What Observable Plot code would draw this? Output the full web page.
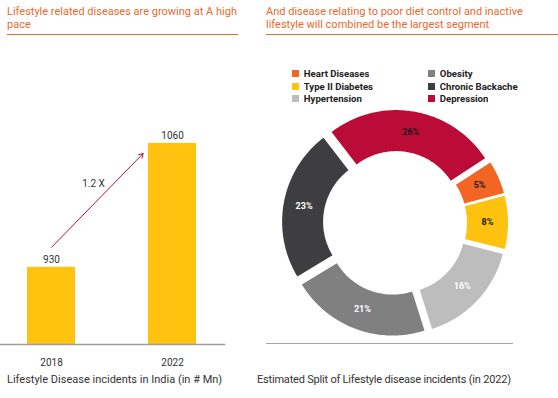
<!DOCTYPE html>
<html>
<head>
<meta charset="utf-8">
<script src="https://cdn.jsdelivr.net/npm/d3@7"></script>
<script src="https://cdn.jsdelivr.net/npm/@observablehq/plot@0.6"></script>
<style>
  html, body { margin: 0; padding: 0; background: #fff; }
  #page { position: relative; width: 558px; height: 398px; overflow: hidden; font-family: Roboto, "Open Sans", sans-serif; }
  .title { position: absolute; top: 5px; font-size: 11px; line-height: 13px; color: #EA6A2C; }
  .rule { position: absolute; height: 0; }
  .caption { position: absolute; top: 373px; font-size: 11px; line-height: 13px; color: #333; white-space: nowrap; }
  .abs { position: absolute; }
  #legend span { letter-spacing: -0.3px; }
</style>
</head>
<body>
<div id="page">
  <div class="title" style="left:7px; width:232px;">Lifestyle related diseases are growing at A high pace</div>
  <div class="rule" style="left:7px; width:231px; top:34px; border-top:1.5px solid #EA6A2C;"></div>
  <div class="title" style="left:266px; width:290px;">And disease relating to poor diet control and inactive lifestyle will combined be the largest segment</div>
  <div class="rule" style="left:266px; width:292px; top:34px; border-top:1.5px solid #EA6A2C;"></div>
  <div class="rule" style="left:266px; width:247px; top:343px; border-top:1.5px solid #a6a6a6;"></div>
  <div class="caption" style="left:7px;">Lifestyle Disease incidents in India (in # Mn)</div>
  <div class="caption" style="left:257px; letter-spacing:-0.2px;">Estimated Split of Lifestyle disease incidents (in 2022)</div>
  <div id="bars" class="abs" style="left:0px; top:40px;"></div>
  <div id="donut" class="abs" style="left:258px; top:40px;"></div>
  <div id="legend" class="abs" style="left:292px; top:68px;"></div>
</div>
<script>
// ---- data ----
const years = ["2018", "2022"];
const incidents = [930, 1060];          // # Mn
const growthLabel = "1.2 X";

const diseases = ["Heart Diseases", "Type II Diabetes", "Hypertension", "Obesity", "Chronic Backache", "Depression"];
const shares = [5, 8, 16, 21, 23, 26];  // %

// ---- styles ----
const barColor = "#FFC20E";
const arrowColor = "#B5123A";
const sliceColors = ["#F26522", "#FFC20E", "#BDBDBD", "#808080", "#3E3E40", "#BA0C36"];
const labelInk = ["#1a1a1a", "#1a1a1a", "#ffffff", "#ffffff", "#ffffff", "#1a1a1a"];

// ---- bar chart ----
const barData = years.map((year, i) => ({year, value: incidents[i]}));
const bars = Plot.plot({
  width: 226, height: 330,
  marginLeft: 0, marginRight: 2, marginTop: 0, marginBottom: 26,
  style: {fontFamily: "Roboto, sans-serif", background: "transparent"},
  x: {domain: years, paddingInner: 0.6, paddingOuter: 0.22, label: null},
  y: {domain: [849, 1168], axis: null, clamp: true},
  marks: [
    Plot.barY(barData, {x: "year", y: "value", fill: barColor}),
    Plot.frame({anchor: "bottom", stroke: "#9e9e9e", strokeWidth: 1.5}),
    Plot.text(barData, {x: "year", y: "value", text: d => String(d.value), dy: -8, fontSize: 10, fill: "#333"}),
    Plot.arrow([{from: years[0], to: years[1], v0: incidents[0], v1: incidents[1]}], {
      x1: "from", x2: "to", y1: "v0", y2: "v1", dy: -20, insetEnd: 42,
      stroke: arrowColor, strokeWidth: 1, headLength: 7
    }),
    Plot.text([{x: years[0], y: incidents[1]}], {x: "x", y: "y", text: () => growthLabel, dx: 42, dy: 40, fontSize: 10, fill: "#333"}),
    Plot.axisX({tickSize: 0, tickPadding: 14, fontSize: 10, color: "#333", label: null})
  ]
});
document.getElementById("bars").appendChild(bars);

// ---- donut ----
const R_OUT = 106, R_IN = 65, EXPLODE = 7, START_DEG = 57;
const total = d3.sum(shares);
const rad = Math.PI / 180;
const ring = [];
const sliceLabels = [];
let acc = 0;
diseases.forEach((name, i) => {
  const a0 = (START_DEG + acc / total * 360) * rad;
  acc += shares[i];
  const a1 = (START_DEG + acc / total * 360) * rad;
  const am = (a0 + a1) / 2;
  const ox = EXPLODE * Math.sin(am), oy = EXPLODE * Math.cos(am);
  const n = Math.max(6, Math.ceil((a1 - a0) / 0.02));
  for (let k = 0; k <= n; k++) {
    const a = a0 + (a1 - a0) * k / n;
    ring.push({name, x: ox + R_OUT * Math.sin(a), y: oy + R_OUT * Math.cos(a)});
  }
  for (let k = n; k >= 0; k--) {
    const a = a0 + (a1 - a0) * k / n;
    ring.push({name, x: ox + R_IN * Math.sin(a), y: oy + R_IN * Math.cos(a)});
  }
  const rm = (R_OUT + R_IN) / 2;
  sliceLabels.push({name, x: ox + rm * Math.sin(am), y: oy + rm * Math.cos(am), text: shares[i] + "%", ink: labelInk[i]});
});

const donut = Plot.plot({
  width: 300, height: 330,
  margin: 0,
  style: {fontFamily: "Roboto, sans-serif", background: "transparent"},
  x: {domain: [-136.5, 163.5], axis: null},
  y: {domain: [-147.5, 182.5], axis: null},
  color: {domain: diseases, range: sliceColors},
  marks: [
    Plot.line(ring, {x: "x", y: "y", z: "name", fill: "name", stroke: null, curve: "linear"}),
    Plot.text(sliceLabels, {x: "x", y: "y", text: "text", fill: "ink", fontSize: 9, fontWeight: "bold"})
  ]
});
document.getElementById("donut").appendChild(donut);

const legend = Plot.legend({
  color: {domain: diseases, range: sliceColors},
  legend: "swatches",
  columns: 2,
  swatchSize: 7,
  style: {width: "262px", fontSize: "9.6px", fontWeight: "bold", color: "#222", fontFamily: "Roboto, sans-serif", lineHeight: "11.6px", margin: 0}
});
document.getElementById("legend").appendChild(legend);
</script>
</body>
</html>
